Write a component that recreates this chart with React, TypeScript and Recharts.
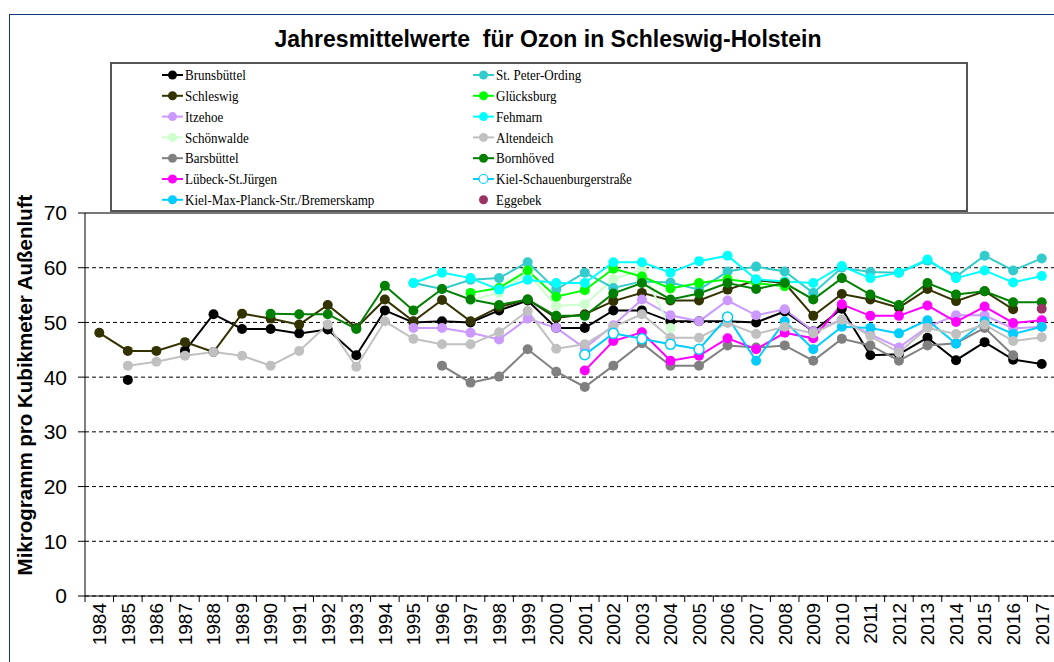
import { LineChart, Line, XAxis, YAxis, CartesianGrid, ReferenceLine } from 'recharts';

const years = [
    '1984', '1985', '1986', '1987', '1988', '1989', '1990', '1991', '1992', '1993', '1994',
    '1995', '1996', '1997', '1998', '1999', '2000', '2001', '2002', '2003', '2004', '2005',
    '2006', '2007', '2008', '2009', '2010', '2011', '2012', '2013', '2014', '2015', '2016', '2017'
];
const yTicks = [0, 10, 20, 30, 40, 50, 60, 70];

const _ = null;
// 1984 .. 2017
const brunsbuettel = [_, 39.5, _, 44.8, 51.5, 48.8, 48.8, 48, 48.7, 44, 52.2, 50, 50.2, 50, 52.2, 54, 49, 49, 52.2, 52.2, 50.2, 50.2, 50.2, 50, 52, 48.4, 52.5, 44, 44.2, 47.2, 43.1, 46.4, 43.2, 42.4];
const schleswig = [48.1, 44.8, 44.8, 46.4, 44.6, 51.6, 50.7, 49.6, 53.2, 49, 54.2, 50.2, 54.1, 50.2, 52.8, 54.2, 50.8, 51.5, 53.9, 55.4, 54, 54, 56, 57.7, 57.2, 51.2, 55.2, 54.2, 52.7, 56.1, 53.9, 55.7, 52.4, _];
const itzehoe = [_, _, _, _, _, _, _, _, _, _, _, 49, 49, 48.1, 46.9, 50.7, 49, 45.3, 49.5, 54.2, 51.3, 50.2, 54, 51.3, 52.4, 48.4, 50.5, 47.8, 45.4, 49.2, 51.3, 51.3, 48.9, 49.2];
const schoenwalde = [_, _, _, _, _, _, _, _, _, _, _, _, _, 54, 55.4, 59, 53, 53.3, 57.9, 59.7, 49, _, _, _, _, _, _, _, _, _, _, _, _, _];
const barsbuettel = [_, _, _, _, _, _, _, _, _, _, _, _, 42.1, 39, 40.1, 45.1, 41, 38.2, 42.1, 46.2, 42.1, 42.1, 45.8, 45.4, 45.8, 43, 47, 45.8, 43, 45.8, 46.2, 49, 44, _];
const luebeck = [_, _, _, _, _, _, _, _, _, _, _, _, _, _, _, _, _, 41.2, 46.6, 48.2, 43, 43.9, 47.1, 45.1, 48.1, 47.1, 53.3, 51.2, 51.2, 53.1, 50.1, 52.9, 49.9, 50.4];
const kielMaxPlanck = [_, _, _, _, _, _, _, _, _, _, _, _, _, _, _, _, _, _, _, _, _, _, 51, 43, 50.2, 45.1, 49.2, 49, 48, 50.4, 46.1, 50.2, 47.9, 49.2];
const stPeterOrding = [_, _, _, _, _, _, _, _, _, _, _, 57.2, 56.1, 57.8, 58.1, 61, 56, 59.1, 56.3, 57.5, 57.3, 56, 59.3, 60.2, 59.3, 55.4, 60, 59.2, 59.1, 61.3, 58.4, 62.2, 59.5, 61.7];
const gluecksburg = [_, _, _, _, _, _, _, _, _, _, _, _, _, 55.4, 56.3, 59.5, 54.7, 55.9, 59.8, 58.4, 56.2, 57.2, 57.9, 57.2, 56.6, _, _, _, _, _, _, _, _, _];
const fehmarn = [_, _, _, _, _, _, _, _, _, _, _, 57.2, 59.1, 58.1, 56, 57.8, 57.2, 57.2, 61, 61, 59.1, 61.2, 62.2, 57.9, 57.5, 57.2, 60.3, 58.1, 59.1, 61.5, 58.1, 59.5, 57.3, 58.5];
const altendeich = [_, 42.1, 42.8, 43.9, 44.6, 43.9, 42.1, 44.8, 49.6, 41.9, 50.2, 47, 46, 46, 48.2, 52.1, 45.2, 46, 49.2, 51.5, 47.2, 47.2, 49.9, 47.9, 49.2, 48, 50.5, 47.5, 44.5, 49, 47.9, 49.6, 46.6, 47.3];
const bornhoeved = [_, _, _, _, _, _, 51.6, 51.5, 51.5, 48.8, 56.7, 52.2, 56.1, 54.2, 53.2, 54.2, 51.2, 51.2, 55.3, 57.2, 54.2, 55.3, 57.2, 56.1, 57.2, 54.2, 58.1, 55.1, 53.2, 57.2, 55.1, 55.7, 53.7, 53.7];
const kielSchauenburger = [_, _, _, _, _, _, _, _, _, _, _, _, _, _, _, _, _, 44.1, 48, 47, 46, 45.1, 51, _, _, _, _, _, _, _, _, _, _, _];
const eggebek = [_, _, _, _, _, _, _, _, _, _, _, _, _, _, _, _, _, _, _, _, _, _, _, _, _, _, _, _, _, _, _, _, _, 52.5];

type Series = { key: string; name: string; color: string; values: (number | null)[]; open?: boolean; noLine?: boolean };

const series: Series[] = [
    { key: 'brunsbuettel', name: 'Brunsbüttel', color: '#000000', values: brunsbuettel },
    { key: 'schleswig', name: 'Schleswig', color: '#333300', values: schleswig },
    { key: 'itzehoe', name: 'Itzehoe', color: '#CC99FF', values: itzehoe },
    { key: 'schoenwalde', name: 'Schönwalde', color: '#CCFFCC', values: schoenwalde },
    { key: 'barsbuettel', name: 'Barsbüttel', color: '#808080', values: barsbuettel },
    { key: 'luebeck', name: 'Lübeck-St.Jürgen', color: '#FF00FF', values: luebeck },
    { key: 'kielMax', name: 'Kiel-Max-Planck-Str./Bremerskamp', color: '#00CCFF', values: kielMaxPlanck },
    { key: 'stPeter', name: 'St. Peter-Ording', color: '#33CCCC', values: stPeterOrding },
    { key: 'gluecksburg', name: 'Glücksburg', color: '#00FF00', values: gluecksburg },
    { key: 'fehmarn', name: 'Fehmarn', color: '#00FFFF', values: fehmarn },
    { key: 'altendeich', name: 'Altendeich', color: '#C0C0C0', values: altendeich },
    { key: 'bornhoeved', name: 'Bornhöved', color: '#008000', values: bornhoeved },
    { key: 'kielSchauen', name: 'Kiel-Schauenburgerstraße', color: '#00CCFF', values: kielSchauenburger, open: true },
    { key: 'eggebek', name: 'Eggebek', color: '#993366', values: eggebek, noLine: true },
];

const data = years.map((year, i) => {
    const row: Record<string, string | number | null> = { year };
    series.forEach(s => { row[s.key] = s.values[i]; });
    return row;
});

const HALF_BAND = 971 / years.length / 2;
const SANS = '"Liberation Sans", Arial, sans-serif';
const SERIF = '"Liberation Serif", "Times New Roman", serif';

function YearTick(props: any) {
    const { x, y, payload } = props;
    return (
        <g>
            <line x1={x - HALF_BAND} x2={x - HALF_BAND} y1={y} y2={y + 6} stroke="#000" />
            <text transform={`translate(${x},${y + 7}) rotate(-90)`} textAnchor="end" dy="0.36em"
                fontFamily={SANS} fontSize={19} fill="#000">{payload.value}</text>
        </g>
    );
}

function LegendBox() {
    const left = series.slice(0, 7);
    const right = series.slice(7);
    const row = (s: Series, i: number, lx: number) => {
        const cy = 13 + i * 20.8;
        return (
            <g key={s.key}>
                {!s.noLine && <line x1={lx} x2={lx + 21} y1={cy} y2={cy} stroke={s.color} strokeWidth={2} />}
                <circle cx={lx + 10.5} cy={cy} r={4.5} fill={s.open ? '#fff' : s.color} stroke={s.color} strokeWidth={s.open ? 1.2 : 0} />
                <text transform={`translate(${lx + 23},${cy}) scale(0.87,1)`} dy="0.35em" fontFamily={SERIF} fontSize={15} fill="#000">{s.name}</text>
            </g>
        );
    };
    return (
        <svg width={858} height={150} style={{ position: 'absolute', left: 110, top: 62 }}>
            <rect x={1} y={1} width={856} height={148} fill="#fff" stroke="#555" strokeWidth={2} />
            {left.map((s, i) => row(s, i, 52))}
            {right.map((s, i) => row(s, i, 363))}
        </svg>
    );
}

export default function App() {
    return (
        <div style={{ position: 'absolute', left: 0, top: 0, width: 1054, height: 662, overflow: 'hidden', background: '#fff' }}>
            <div style={{ position: 'absolute', left: 9, top: 14, width: 1100, height: 700, border: '1px solid #123a7a' }} />
            <div style={{ position: 'absolute', left: 0, top: 0 }}>
                <LineChart width={1060} height={662} data={data}
                    margin={{ top: 213, right: 4, bottom: 6, left: 0 }}
                >
                    <CartesianGrid vertical={false} stroke="#000" strokeDasharray="4 3" />
                    <ReferenceLine y={70} stroke="#777" strokeWidth={2} />
                    <XAxis dataKey="year" scale="band" interval={0} height={60} tickSize={0} tickMargin={0}
                        tickLine={false} axisLine={{ stroke: '#000' }} tick={<YearTick />} />
                    <YAxis domain={[0, 70]} ticks={yTicks} width={85} tickSize={7} tickMargin={11}
                        axisLine={{ stroke: '#000' }} tickLine={{ stroke: '#000' }}
                        tick={{ fontFamily: SANS, fontSize: 21, fill: '#000' }} />
                    {series.map(s => (
                        <Line key={s.key} dataKey={s.key} name={s.name} type="linear"
                            stroke={s.noLine ? 'none' : s.color} strokeWidth={2}
                            dot={{ r: 5, fill: s.open ? '#fff' : s.color, stroke: s.color, strokeWidth: s.open ? 1.5 : 0 }}
                            activeDot={false} isAnimationActive={false} />
                    ))}
                </LineChart>
            </div>
            <LegendBox />
            <div style={{ position: 'absolute', left: 0, width: 1096, top: 26, textAlign: 'center', fontFamily: SANS, fontWeight: 'bold', fontSize: 23, whiteSpace: 'pre' }}>
                Jahresmittelwerte  für Ozon in Schleswig-Holstein
            </div>
            <svg width={60} height={662} style={{ position: 'absolute', left: 0, top: 0 }}>
                <text transform="translate(25,385) rotate(-90)" textAnchor="middle" dy="0.36em"
                    fontFamily={SANS} fontWeight="bold" fontSize={20.5} fill="#000">Mikrogramm pro Kubikmeter Außenluft</text>
            </svg>
        </div>
    );
}
